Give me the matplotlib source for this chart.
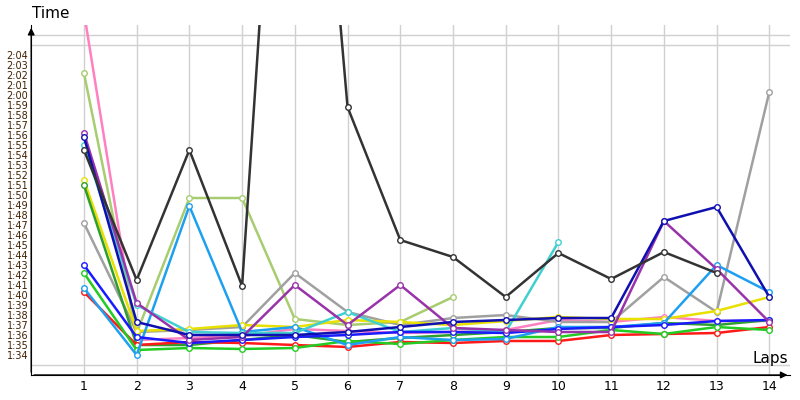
import matplotlib
matplotlib.use("Agg")
import matplotlib.pyplot as plt
import numpy as np

laps = list(range(1, 15))
red = [100.3, 95.0, 95.3, 95.2, 95.0, 94.8, 95.3, 95.2, 95.4, 95.4, 96.0, 96.1, 96.2, 96.8]
green = [102.2, 94.5, 94.7, 94.6, 94.7, 95.4, 95.1, 95.5, 95.8, 95.8, 96.5, 96.1, 96.8, 96.5]
darkgreen = [111.0, 95.0, 95.0, 95.5, 96.0, 95.3, 95.7, 96.0, 96.3, 96.7, 96.7, 97.2, 97.0, 97.5]
yellow = [111.5, 96.4, 96.6, 97.0, 96.8, 97.5, 97.3, 97.0, 97.4, 97.8, 97.6, 97.6, 98.4, 99.8]
black = [114.5, 101.5, 114.5, 100.9, 180.0, 118.8, 105.5, 103.8, 99.8, 104.2, 101.6, 104.3, 102.2]
gray = [107.2, 96.3, 96.5, 96.8, 102.2, 98.3, 97.0, 97.7, 98.0, 97.3, 97.3, 101.8, 98.3, 120.3]
lightgreen = [122.2, 96.2, 109.7, 109.7, 97.6, 97.0, 97.3, 99.8]
skyblue = [100.7, 94.0, 108.9, 96.3, 96.8, 95.0, 95.8, 95.5, 95.6, 96.8, 96.8, 97.2, 103.0, 100.3]
cyan = [115.0, 99.0, 96.3, 96.2, 96.2, 98.3, 96.3, 96.7, 96.3, 105.3]
blue = [103.0, 95.8, 95.2, 95.5, 95.8, 96.0, 96.3, 96.3, 96.2, 96.6, 96.8, 97.0, 97.4, 97.5]
navy = [115.8, 97.3, 96.0, 96.0, 96.0, 96.3, 96.8, 97.3, 97.5, 97.7, 97.7, 107.4, 108.8, 99.8]
purple = [116.2, 99.2, 95.5, 95.8, 101.0, 97.0, 101.0, 96.7, 96.5, 96.3, 96.3, 107.4, 102.6, 97.3]
pink = [128.3, 95.5, 95.7, 95.9, 96.6, 96.4, 96.2, 96.3, 96.5, 97.5, 97.3, 97.8, 97.4, 97.4]

series = [
    (pink, "#ff80c0"), (lightgreen, "#a8cc70"), (gray, "#a0a0a0"),
    (yellow, "#e8e000"), (darkgreen, "#2e9e2e"), (red, "#ff1a1a"),
    (green, "#22cc22"), (skyblue, "#1ea0f0"), (cyan, "#40d0d0"),
    (blue, "#1a1aff"), (purple, "#9933aa"), (navy, "#1010b0"),
    (black, "#333333"),
]

fig = plt.figure(figsize=(8, 4), dpi=100)
ax = fig.add_axes([0.039, 0.0625, 0.949, 0.875])
ax.set_xlim(0, 14.4)
ax.set_ylim(92, 127)
for vals, col in series:
    ax.plot(laps[:len(vals)], vals, color=col, lw=1.8, marker="o", ms=4,
            mfc="white", mec=col, mew=1, zorder=3, clip_on=True)

ax.set_xticks(laps)
ax.set_yticks(range(94, 125))
ax.set_yticklabels([f"{v//60}:{v%60:02d}" for v in range(94, 125)], fontsize=7, color="#402000")
ax.set_yticks(range(93, 127), minor=True)
ax.tick_params(axis="x", labelsize=9, length=0)
ax.tick_params(axis="y", length=0, pad=2)
ax.tick_params(which="minor", length=0)
ax.grid(True, which="minor", axis="y", color="#d0d0d0", lw=1)
ax.grid(True, which="major", axis="x", color="#d0d0d0", lw=1)
ax.set_axisbelow(True)
for s in ["top", "right"]:
    ax.spines[s].set_visible(False)
ax.spines["left"].set_color("black")
ax.spines["bottom"].set_color("black")
ax.annotate("", xy=(0, 1.0), xytext=(0, 0), xycoords="axes fraction",
            arrowprops=dict(arrowstyle="-|>", color="black", lw=1))
ax.annotate("", xy=(1.0, 0), xytext=(0, 0), xycoords="axes fraction",
            arrowprops=dict(arrowstyle="-|>", color="black", lw=1))
fig.text(0.04, 0.965, "Time", fontsize=11, va="center", ha="left")
fig.text(0.985, 0.085, "Laps", fontsize=11, va="bottom", ha="right")
fig.savefig("out.png", dpi=100)
